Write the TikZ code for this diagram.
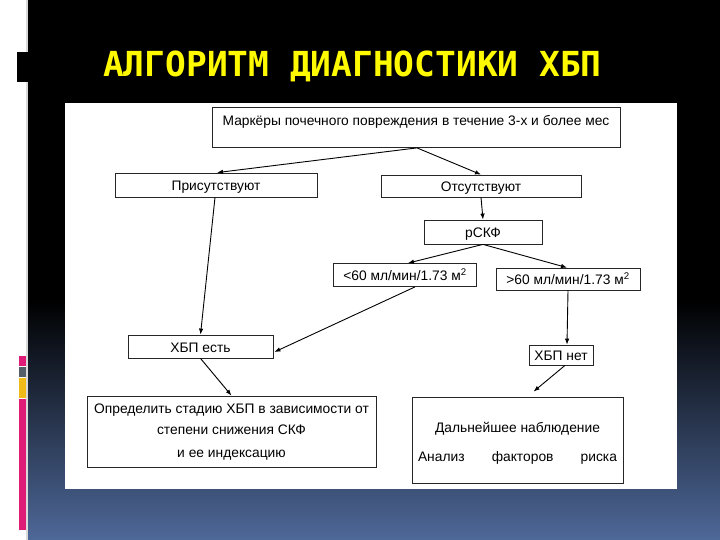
\documentclass[tikz,border=0pt]{standalone}
\usepackage{fontspec}
\setmainfont{Liberation Sans}
\newfontfamily\titlefont{DejaVu Sans Mono}
\usetikzlibrary{arrows.meta, positioning}

\definecolor{bgblue}{RGB}{78,104,152}
\definecolor{titleyellow}{RGB}{255,250,0}
\definecolor{barpink}{RGB}{222,28,120}
\definecolor{bargray}{RGB}{84,94,104}
\definecolor{baryellow}{RGB}{240,186,24}

\begin{document}
\begin{tikzpicture}[x=1pt, y=-1pt,
            bigbox/.style={rectangle, draw=black!85, line width=0.8pt, fill=white,
                           inner sep=2pt, font=\fontsize{13.8}{16}\selectfont},
            box/.style   ={bigbox, text height=11.5pt, text depth=0pt},
            arr/.style   ={-{Latex[length=6pt, width=4.5pt]}, line width=0.9pt, black}
        ]
            \useasboundingbox (0,0) rectangle (720,540);

            % --- Fondo de la diapositiva ---
            \fill[white] (0,0) rectangle (720,540);
            \fill[black] (28,0) rectangle (720,540);
            \shade[top color=black, bottom color=bgblue] (28,300) rectangle (720,540);
            \draw[black!15, line width=1.5pt] (27,0) -- (27,540);
            \fill[black] (17,52) rectangle (28,82);
            \fill[barpink]    (19,356) rectangle (26,366);
            \fill[bargray]    (19,367) rectangle (26,377);
            \fill[baryellow]  (19,378) rectangle (26,398);
            \fill[barpink]    (19,399) rectangle (26,530);

            % --- Titulo ---
            \node[anchor=base west, inner sep=0pt, text=titleyellow,
                  font=\titlefont\bfseries\fontsize{34.5}{40}\selectfont] (titulo) at (103,77)
                  {АЛГОРИТМ ДИАГНОСТИКИ ХБП};

            % --- Panel blanco ---
            \fill[white] (65,103) rectangle (677,489);

            % --- Nodos ---
            \node[box, minimum width=408, minimum height=40] (markers) at (416,127.5)
                  {\raisebox{7.25pt}{Маркёры почечного повреждения в течение 3-х и более мес}};
            \node[box, minimum width=202, minimum height=24] (pres)   at (216,185)   {Присутствуют};
            \node[box, minimum width=200, minimum height=22] (abs)    at (481,186)   {Отсутствуют};
            \node[box, minimum width=118, minimum height=24] (gfr)    at (483,232)   {рСКФ};
            \node[box, minimum width=143, minimum height=23] (low)    at (405,275)   {<60 мл/мин/1.73 м\textsuperscript{2}};
            \node[box, minimum width=144, minimum height=22] (high)   at (568,279)   {>60 мл/мин/1.73 м\textsuperscript{2}};
            \node[box, minimum width=145, minimum height=23] (ckdyes) at (200.5,346.5) {ХБП есть};
            \node[box, minimum width=64,  minimum height=20] (ckdno)  at (561,355)   {ХБП нет};
            \node[bigbox, minimum width=289, minimum height=71, align=center,
                  font=\fontsize{13.8}{22.5}\selectfont] (stage)  at (231.5,431.5)
                  {\raisebox{-1.5pt}[\height][\depth]{Определить стадию ХБП в зависимости от}\\ степени снижения СКФ\\ и ее индексацию};
            \node[bigbox, minimum width=211, minimum height=86, align=center,
                  font=\fontsize{13.8}{29}\selectfont]   (follow) at (517.5,440)
                  {\raisebox{-3.5pt}[\height][\depth]{Дальнейшее наблюдение}\\
                   \raisebox{-3.5pt}[\height][\depth]{\makebox[199pt][s]{Анализ\hfill факторов\hfill риска}}};

            % --- Enlaces ---
            \draw[arr] ([xshift=1pt]markers.south) -- ([xshift=1pt]pres.north);
            \draw[arr] ([xshift=1pt]markers.south) -- (abs.north);
            \draw[arr] ([xshift=-1pt]pres.south)   -- (ckdyes.north);
            \draw[arr] (abs.south)                 -- (gfr.north);
            \draw[arr] (gfr.south)                 -- ([xshift=3pt]low.north);
            \draw[arr] (gfr.south)                 -- ([xshift=-1pt]high.north);
            \draw[arr] ([xshift=10pt]low.south)    -- ([xshift=1pt, yshift=-5.5pt]ckdyes.east);
            \draw[arr] (high.south)                -- ([xshift=6pt]ckdno.north);
            \draw[arr] (ckdyes.south)              -- (stage.north);
            \draw[arr] ([xshift=4pt]ckdno.south)   -- ([xshift=16pt, yshift=5pt]follow.north);
        \end{tikzpicture}
\end{document}
